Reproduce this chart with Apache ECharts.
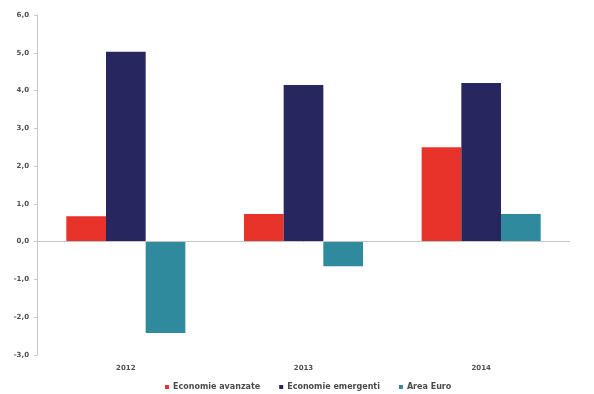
<!DOCTYPE html>
<html>
<head>
<meta charset="utf-8">
<script src="https://cdn.jsdelivr.net/npm/echarts@6/dist/echarts.min.js"></script>
<style>
  html, body { margin: 0; padding: 0; background: #fff; }
  #chart { width: 594px; height: 394px; }
</style>
</head>
<body>
<div id="chart"></div>
<script>
// Growth rates (%) by year and economic area
const years = ['2012', '2013', '2014'];
const avanzate = [0.67, 0.73, 2.5];
const emergenti = [5.03, 4.15, 4.2];
const areaEuro = [-2.42, -0.65, 0.73];
const seriesNames = ['Economie avanzate', 'Economie emergenti', 'Area Euro'];
const colors = ['#e8332b', '#28265f', '#2f8a9d'];

const chart = echarts.init(document.getElementById('chart'), null, { renderer: 'canvas' });

const labelFont = {
  fontFamily: 'DejaVu Sans, Verdana, sans-serif',
  fontSize: 7,
  fontWeight: 'bold',
  color: '#505050'
};

function barSeries(name, data, color, withZeroLine) {
  const s = {
    name: name,
    type: 'bar',
    data: data,
    barGap: '0%',
    barCategoryGap: '33%',
    itemStyle: { color: color },
    emphasis: { disabled: true }
  };
  if (withZeroLine) {
    s.markLine = {
      silent: true,
      symbol: 'none',
      label: { show: false },
      lineStyle: { color: '#c4c4c4', width: 1, type: 'solid' },
      data: [{ yAxis: 0 }]
    };
  }
  return s;
}

chart.setOption({
  animation: false,
  backgroundColor: '#ffffff',
  grid: { left: 37, right: 24, top: 15, bottom: 39 },
  legend: {
    data: seriesNames,
    left: 160,
    top: 378,
    itemWidth: 4,
    itemHeight: 4,
    itemGap: 19,
    icon: 'rect',
    textStyle: Object.assign({}, labelFont, { fontSize: 8, color: '#4a4a4a', padding: [0, 0, 0, -1] })
  },
  xAxis: {
    type: 'category',
    data: years,
    axisLine: { show: false },
    axisTick: { show: false },
    axisLabel: Object.assign({}, labelFont, { margin: 10 })
  },
  yAxis: {
    type: 'value',
    min: -3,
    max: 6,
    interval: 1,
    axisLine: { show: true, lineStyle: { color: '#c8c8c8' } },
    axisTick: { show: true, length: 3, lineStyle: { color: '#c8c8c8' } },
    splitLine: { show: false },
    axisLabel: Object.assign({}, labelFont, {
      margin: 8,
      formatter: function (v) { return v.toFixed(1).replace('.', ','); }
    })
  },
  series: [
    barSeries(seriesNames[0], avanzate, colors[0], true),
    barSeries(seriesNames[1], emergenti, colors[1], false),
    barSeries(seriesNames[2], areaEuro, colors[2], false)
  ]
});
</script>
</body>
</html>
